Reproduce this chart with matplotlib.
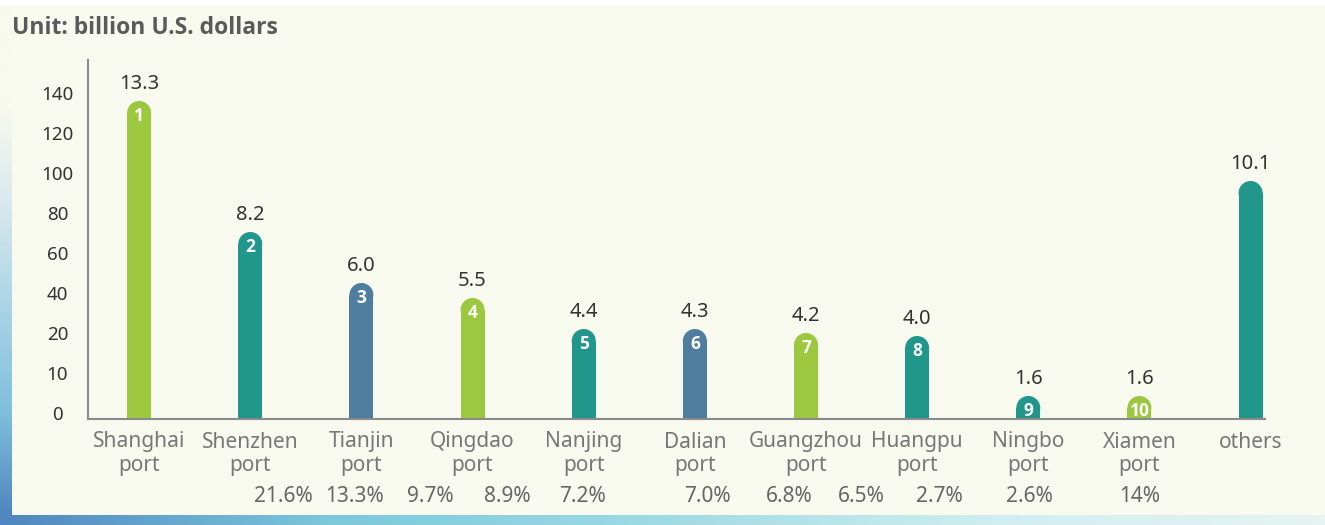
"""Top ports chart (matplotlib)."""
import numpy as np
import matplotlib.pyplot as plt
from matplotlib.colors import LinearSegmentedColormap
from matplotlib.patches import Rectangle

plt.rcParams["font.family"] = ["Noto Sans", "DejaVu Sans"]

ports = ["Shanghai\nport", "Shenzhen\nport", "Tianjin\nport", "Qingdao\nport",
         "Nanjing\nport", "Dalian\nport", "Guangzhou\nport", "Huangpu\nport",
         "Ningbo\nport", "Xiamen\nport", "others"]
value_labels = ["13.3", "8.2", "6.0", "5.5", "4.4", "4.3", "4.2", "4.0", "1.6", "1.6", "10.1"]
rank_labels = ["1", "2", "3", "4", "5", "6", "7", "8", "9", "10", ""]
# bar heights as read against the (uneven) y axis
bar_heights = [136, 70.5, 45, 37.5, 22, 22, 20, 19.25, 4.25, 4.25, 96]
shares = ["21.6%", "13.3%", "9.7%", "8.9%", "7.2%", "7.0%", "6.8%", "6.5%", "2.7%", "2.6%", "14%"]
share_x = [1.3, 1.94, 2.62, 3.31, 3.99, 5.11, 5.85, 6.50, 7.20, 8.01, 9.0]
yticks = [0, 10, 20, 40, 60, 80, 100, 120, 140]

GREEN = "#9bc83e"
TEAL = "#21968b"
BLUE = "#4e7d9f"
colors = [GREEN, TEAL, BLUE, GREEN, TEAL, BLUE, GREEN, TEAL, TEAL, GREEN, TEAL]
BG = "#f8f9ef"
BOLD = ["Open Sans", "DejaVu Sans"]

fig = plt.figure(figsize=(13.25, 5.25), dpi=100)
fig.patch.set_facecolor("white")
W, H = 1325, 525

# cream panel
fig.patches.append(Rectangle((12 / W, 10 / H), 1 - 12 / W, (515 - 5) / H,
                             transform=fig.transFigure, facecolor=BG, edgecolor="none", zorder=-5))
# left blue strip (cream at top, blue at bottom)
grad = np.linspace(0, 1, 256).reshape(-1, 1)
lax = fig.add_axes([0, 10 / H, 12 / W, 1 - 15 / H], zorder=-4)
lax.imshow(grad, aspect="auto", origin="lower", extent=(0, 1, 0, 1),
           cmap=LinearSegmentedColormap.from_list(
               "l", ["#4f86bf", "#7fbfdc", "#a9d3e6", "#d6e8ec", "#f8f9ef", "#f8f9ef"]))
lax.axis("off")
# bottom strip
bax = fig.add_axes([0, 0, 1, 10 / H], zorder=-4)
bax.imshow(grad.T, aspect="auto", extent=(0, 1, 0, 1),
           cmap=LinearSegmentedColormap.from_list("b", ["#4f86bf", "#7cc8dc", "#9fdbe4", "#cfeef0", "#e6f4f2"]))
bax.axis("off")

ax = fig.add_axes([88 / W, 1 - 419 / H, (1265 - 88) / W, (419 - 60) / H])
ax.set_facecolor("none")

px_per_unit = 40.0
ybot = -6 / px_per_unit
ax.set_ylim(ybot, ybot + 359 / px_per_unit)
x = np.arange(len(ports))
ax.set_xlim(-0.46, 10.13)

pos = np.interp(bar_heights, yticks, np.arange(len(yticks)))
bar_w = 24 / 111.2
r = 12 / px_per_unit
cap_size = (24 * 72 / 100) ** 2

ax.bar(x, pos - r - ybot, bottom=ybot, width=bar_w, color=colors, zorder=2)
ax.scatter(x, pos - r, s=cap_size, c=colors, marker="o", linewidths=0, zorder=2)

for xi, p, lab, rk in zip(x, pos, value_labels, rank_labels):
    ax.annotate(lab, (xi, p), xytext=(0, 5), textcoords="offset points",
                ha="center", va="bottom", fontsize=14.5, color="#333333")
    if rk:
        ax.text(xi, p - r - 0.08, rk, ha="center", va="center", fontsize=12.5,
                fontweight="bold", family=BOLD, color="white", zorder=3)

for sx, s in zip(share_x, shares):
    ax.text(sx, ybot - 77 / px_per_unit, s, ha="center", va="center",
            fontsize=15, color="#666666")

ax.set_yticks(np.arange(len(yticks)), [str(t) for t in yticks])
ax.set_xticks(x, ports)
ax.tick_params(axis="both", length=0)
ax.tick_params(axis="y", pad=22, labelsize=13.5, labelcolor="#333333")
ax.tick_params(axis="x", pad=9, labelsize=15, labelcolor="#777777")
for lbl in ax.get_xticklabels():
    lbl.set_linespacing(1.15)
for side in ["top", "right"]:
    ax.spines[side].set_visible(False)
for side in ["left", "bottom"]:
    ax.spines[side].set_color("#8a8a8a")
    ax.spines[side].set_linewidth(1.5)
for lbl in ax.get_yticklabels():
    lbl.set_horizontalalignment("center")

fig.text(12 / W, 1 - 28 / H, "Unit: billion U.S. dollars", ha="left", va="center",
         fontsize=16.5, fontweight="bold", family=BOLD, color="#5a5a5a")

fig.savefig("out.png", dpi=100, facecolor=fig.get_facecolor())
